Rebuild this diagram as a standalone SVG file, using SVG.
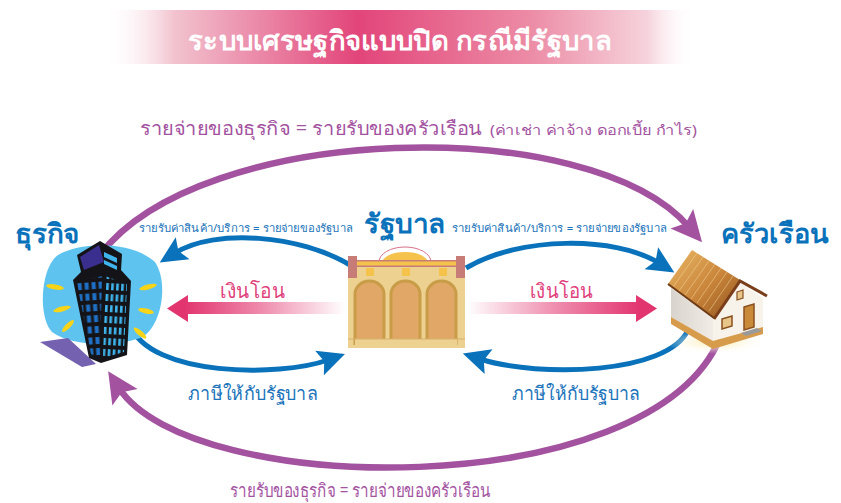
<svg xmlns="http://www.w3.org/2000/svg" width="841" height="503" viewBox="0 0 841 503">
  <style>
    text { font-family: "Noto Sans", "DejaVu Sans", sans-serif; }
    .title { fill: #ffffff; font-size: 27px; font-weight: bold; }
    .flow { fill: #a3529f; font-size: 19px; }
    .flow-s { fill: #a3529f; font-size: 14px; }
    .node { fill: #0a72ba; font-size: 27px; font-weight: bold; }
    .small { fill: #1a73ba; font-size: 11px; }
    .tax { fill: #1a73ba; font-size: 19px; }
    .transfer { fill: #e0417a; font-size: 20px; }
    .blue { fill: none; stroke: #0a72ba; stroke-width: 5; stroke-linecap: butt; }
    .purple { fill: none; stroke: #a3529f; stroke-width: 6.5; }
  </style>
  <defs>
    <linearGradient id="banner" x1="0" y1="0" x2="1" y2="0">
      <stop offset="0" stop-color="#ffffff" stop-opacity="0"/>
      <stop offset="0.12" stop-color="#f2c3cf"/>
      <stop offset="0.43" stop-color="#e2457a"/>
      <stop offset="0.72" stop-color="#ec8ba5"/>
      <stop offset="0.92" stop-color="#f6d3dc"/>
      <stop offset="1" stop-color="#ffffff" stop-opacity="0"/>
    </linearGradient>
    <linearGradient id="pinkL" gradientUnits="userSpaceOnUse" x1="345" y1="0" x2="185" y2="0">
      <stop offset="0" stop-color="#e2356f" stop-opacity="0"/>
      <stop offset="0.5" stop-color="#e2356f" stop-opacity="0.55"/>
      <stop offset="1" stop-color="#e2356f"/>
    </linearGradient>
    <linearGradient id="pinkR" gradientUnits="userSpaceOnUse" x1="467" y1="0" x2="640" y2="0">
      <stop offset="0" stop-color="#e2356f" stop-opacity="0"/>
      <stop offset="0.5" stop-color="#e2356f" stop-opacity="0.55"/>
      <stop offset="1" stop-color="#e2356f"/>
    </linearGradient>
    <linearGradient id="roof" x1="0" y1="0" x2="1" y2="1">
      <stop offset="0" stop-color="#eab866"/>
      <stop offset="0.55" stop-color="#c9843a"/>
      <stop offset="1" stop-color="#8e521d"/>
    </linearGradient>
    <linearGradient id="wallFront" x1="0" y1="0" x2="1" y2="0">
      <stop offset="0" stop-color="#d8d3cc"/>
      <stop offset="1" stop-color="#f1ede6"/>
    </linearGradient>
    <radialGradient id="glow" cx="0.5" cy="0.5" r="0.5">
      <stop offset="0" stop-color="#fbeaa8"/>
      <stop offset="1" stop-color="#ffffff" stop-opacity="0"/>
    </radialGradient>
    <pattern id="winL" patternUnits="userSpaceOnUse" width="7" height="11" patternTransform="rotate(-4)">
      <rect width="7" height="11" fill="#141418"/>
      <rect x="1.5" y="2" width="4" height="7" fill="#1f6fc4"/>
    </pattern>
    <pattern id="winR" patternUnits="userSpaceOnUse" width="5" height="11" patternTransform="rotate(3)">
      <rect width="5" height="11" fill="#141418"/>
      <rect x="1" y="2" width="2.6" height="7" fill="#3fb4ec"/>
    </pattern>
    <marker id="headBlue" markerUnits="userSpaceOnUse" viewBox="-30 -15 32 30" refX="-18" refY="0" markerWidth="32" markerHeight="30" orient="auto">
      <path d="M0,0 L-27,-13 L-22,0 L-27,13 Z" fill="#0a72ba"/>
    </marker>
    <marker id="headPurple" markerUnits="userSpaceOnUse" viewBox="-34 -18 36 36" refX="-20" refY="0" markerWidth="36" markerHeight="36" orient="auto">
      <path d="M0,0 L-31,-15 L-25,0 L-31,15 Z" fill="#a3529f"/>
    </marker>
  </defs>

  <rect width="841" height="503" fill="#ffffff"/>

  <!-- heading banner -->
  <g id="title">
    <rect x="103" y="10" width="592" height="54" fill="url(#banner)"/>
    <text class="title" x="400" y="50" text-anchor="middle" textLength="424" lengthAdjust="spacingAndGlyphs">ระบบเศรษฐกิจแบบปิด กรณีมีรัฐบาล</text>
  </g>

  <!-- flows between the three sectors -->
  <g id="connectors">
    <path class="purple" d="M100,255 C200,122 590,112 689,227" marker-end="url(#headPurple)"/>
    <path class="purple" d="M720,338 C650,505 190,498 119,388" marker-end="url(#headPurple)"/>
    <path class="blue" d="M350,265 C300,235 215,228 175,253" marker-end="url(#headBlue)"/>
    <path class="blue" d="M130,325 C150,377 280,377 328,360" marker-end="url(#headBlue)"/>
    <path class="blue" d="M466,268 C520,236 615,236 659,263" marker-end="url(#headBlue)"/>
    <path class="blue" d="M688,330 C668,374 540,378 480,359" marker-end="url(#headBlue)"/>
    <path d="M345,302 H188 V295 L167,308.5 L188,322 V314 H345 Z" fill="url(#pinkL)"/>
    <path d="M467,302 H636 V295 L657,308.5 L636,322 V314 H467 Z" fill="url(#pinkR)"/>
  </g>

  <!-- flow labels -->
  <g id="labels">
    <text class="flow" x="140" y="135" textLength="342" lengthAdjust="spacingAndGlyphs">รายจ่ายของธุรกิจ = รายรับของครัวเรือน</text>
    <text class="flow-s" x="490" y="135" textLength="207" lengthAdjust="spacingAndGlyphs">(ค่าเช่า ค่าจ้าง ดอกเบี้ย กำไร)</text>
    <text class="flow" x="230" y="497" textLength="260" lengthAdjust="spacingAndGlyphs">รายรับของธุรกิจ = รายจ่ายของครัวเรือน</text>
    <text class="small" x="139" y="232" textLength="214" lengthAdjust="spacingAndGlyphs">รายรับค่าสินค้า/บริการ = รายจ่ายของรัฐบาล</text>
    <text class="small" x="452" y="232" textLength="215" lengthAdjust="spacingAndGlyphs">รายรับค่าสินค้า/บริการ = รายจ่ายของรัฐบาล</text>
    <text class="transfer" x="220" y="298" textLength="65" lengthAdjust="spacingAndGlyphs">เงินโอน</text>
    <text class="transfer" x="530" y="298" textLength="63" lengthAdjust="spacingAndGlyphs">เงินโอน</text>
    <text class="tax" x="188" y="400" textLength="130" lengthAdjust="spacingAndGlyphs">ภาษีให้กับรัฐบาล</text>
    <text class="tax" x="512" y="400" textLength="128" lengthAdjust="spacingAndGlyphs">ภาษีให้กับรัฐบาล</text>
  </g>

  <!-- business: office tower -->
  <g id="business">
    <text class="node" x="15" y="243" textLength="65" lengthAdjust="spacingAndGlyphs">ธุรกิจ</text>
    <path d="M58,255 C80,242 130,240 155,262 C170,285 160,330 140,338 C110,348 70,345 52,332 C38,318 40,268 58,255 Z" fill="#5ec4ef"/>
    <g fill="#f7d417">
      <ellipse cx="55" cy="287" rx="9" ry="2.5" transform="rotate(10 55 287)"/>
      <ellipse cx="62" cy="309" rx="9" ry="2.5" transform="rotate(-15 62 309)"/>
      <ellipse cx="68" cy="326" rx="8" ry="2.5" transform="rotate(-45 68 326)"/>
      <ellipse cx="148" cy="287" rx="9" ry="2.5" transform="rotate(-15 148 287)"/>
      <ellipse cx="146" cy="311" rx="8" ry="2.5" transform="rotate(12 146 311)"/>
      <ellipse cx="140" cy="333" rx="8" ry="2.5" transform="rotate(40 140 333)"/>
    </g>
    <path d="M40,342 L68,338 L96,364 L82,367 Z" fill="#7461b0"/>
    <path d="M77,255 L100,241 L122,254 L121,270 L131,281 L127,355 L101,363 L89,358 L73,280 L81,272 Z" fill="#141418"/>
    <path d="M80,257 L99,245 L104,262 L84,270 Z" fill="#3a2f8e"/>
    <path d="M104,252 L117,258 L117,263 L104,257 Z M104,260 L117,266 L117,270 L104,264 Z" fill="#3fb4ec"/>
    <path d="M77,283 L102,276 L100,358 L91,354 Z" fill="url(#winL)"/>
    <path d="M105,276 L127,284 L124,352 L103,358 Z" fill="url(#winR)"/>
  </g>

  <!-- government: hall with arches -->
  <g id="government">
    <text class="node" x="364" y="233" textLength="82" lengthAdjust="spacingAndGlyphs">รัฐบาล</text>
    <path d="M379,262 A26 15 0 0 1 431,262" fill="none" stroke="#d8708c" stroke-width="1"/>
    <path d="M382,263 A23 11 0 0 1 428,263 Z" fill="#f5c24c"/>
    <rect x="348" y="266" width="117" height="82" fill="#ecd190"/>
    <rect x="348" y="256" width="9" height="22" fill="#c77c78"/>
    <rect x="456" y="256" width="9" height="22" fill="#c77c78"/>
    <rect x="357" y="260" width="99" height="7" fill="#c77c78"/>
    <rect x="357" y="261.5" width="99" height="4" fill="#f5c24c"/>
    <g fill="#f5c24c">
      <rect x="366" y="268" width="8" height="8"/>
      <rect x="402" y="268" width="8" height="8"/>
      <rect x="439" y="268" width="8" height="8"/>
    </g>
    <g fill="#e0a767" stroke="#c99c48" stroke-width="3">
      <path d="M355,345 V294 A14.5 13 0 0 1 384,294 V345"/>
      <path d="M391,345 V294 A14.5 13 0 0 1 420,294 V345"/>
      <path d="M427,345 V294 A14.5 13 0 0 1 456,294 V345"/>
    </g>
    <rect x="355" y="339" width="102" height="9" fill="#ecd190"/>
    <line x1="348" y1="339" x2="465" y2="339" stroke="#d8b06a" stroke-width="1"/>
  </g>

  <!-- household: house -->
  <g id="household">
    <text class="node" x="721" y="243" textLength="107" lengthAdjust="spacingAndGlyphs">ครัวเรือน</text>
    <ellipse cx="716" cy="342" rx="52" ry="12" fill="url(#glow)"/>
    <path d="M671,288 L713,318 L713,341 L671,317 Z" fill="url(#wallFront)"/>
    <path d="M713,318 L740,283 L763,298 L763,327 L713,341 Z" fill="#f7f3ea"/>
    <path d="M671,317 L713,341 L763,327 L763,334 L713,349 L671,324 Z" fill="#d79b4c"/>
    <path d="M668,284 L692,250 L740,280 L714,318 Z" fill="url(#roof)"/>
    <g stroke="#f4d596" stroke-width="1" opacity="0.55">
      <line x1="697" y1="253" x2="673" y2="287"/>
      <line x1="703" y1="257" x2="679" y2="291"/>
      <line x1="709" y1="261" x2="685" y2="295"/>
      <line x1="715" y1="264" x2="691" y2="299"/>
      <line x1="721" y1="268" x2="697" y2="303"/>
      <line x1="727" y1="272" x2="703" y2="307"/>
      <line x1="733" y1="276" x2="709" y2="311"/>
    </g>
    <line x1="668" y1="284" x2="714" y2="318" stroke="#6e3a14" stroke-width="2"/>
    <path d="M714,319 L740,281 L767,296" fill="none" stroke="#7a3f1a" stroke-width="3"/>
    <path d="M737,292 L743,290 L743,298 L737,300 Z" fill="#e8c68a" stroke="#8a5020" stroke-width="1.2"/>
    <path d="M722,319 L732,316 L732,326 L722,329 Z" fill="#e8c68a" stroke="#8a5020" stroke-width="1.5"/>
    <path d="M744,307 L754,304 L754,327 L744,330 Z" fill="#c98a3a" stroke="#8a5020" stroke-width="1.5"/>
    <path d="M741,333 L757,328 L762,331 L746,336 Z" fill="#9a9a9a"/>
  </g>
</svg>
